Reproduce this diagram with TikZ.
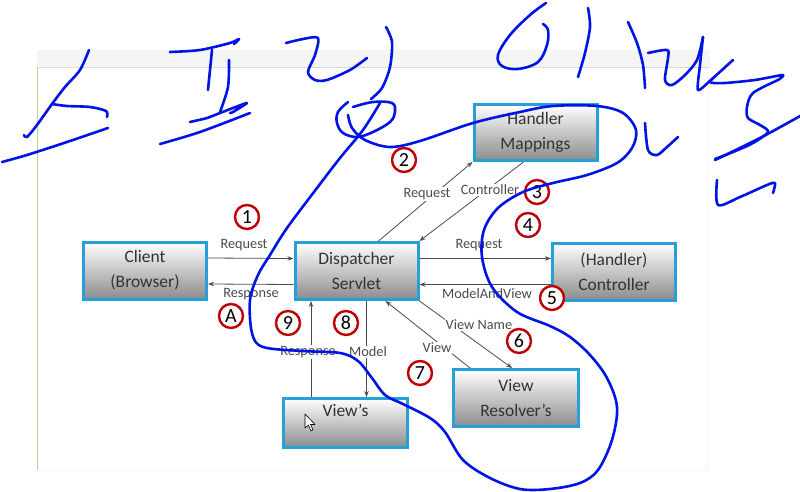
\documentclass[tikz,border=0pt]{standalone}
\usepackage{fontspec}
\setmainfont{Carlito}
\usetikzlibrary{arrows.meta, positioning}
\definecolor{boxblue}{RGB}{38,160,214}
\definecolor{inkblue}{RGB}{0,20,230}
\definecolor{numred}{RGB}{192,0,0}
\definecolor{lblgray}{RGB}{75,75,75}
\definecolor{slidegreen}{RGB}{190,210,140}
\colorlet{wiregray}{black!70}

\tikzset{
  flowbox/.style={draw=boxblue, line width=3pt, top color=white, bottom color=black!45,
    minimum width=123pt, minimum height=57pt, inner sep=0pt, align=center,
    text=black!80, font=\fontsize{17.5}{25}\selectfont},
  wirelbl/.style={fill=white, inner sep=1pt, text=lblgray, font=\fontsize{14.3}{15}\selectfont},
  numcirc/.style={circle, draw=numred, line width=2.4pt, fill=white, minimum size=24pt,
    inner sep=0pt, font=\fontsize{20}{20}\selectfont},
  wire/.style={draw=wiregray, line width=0.8pt},
  ink/.style={draw=inkblue, line width=2.6pt, line cap=round, line join=round}
}

\begin{document}
\begin{tikzpicture}[x=1pt, y=-1pt, >={Stealth[length=6pt,width=4.5pt]}]
    \useasboundingbox (0,0) rectangle (800,492);
    \fill[white] (0,0) rectangle (800,492);

    % Screen frame
    \fill[black!4] (37,50) rectangle (710,67);
    \draw[black!15, line width=0.6pt] (37,67) -- (710,67);
    \draw[slidegreen, line width=1pt] (37,67) -- (37,470);
    \draw[black!4, line width=0.6pt] (37,470) -- (707,470) -- (707,67);

    % Boxes
    \node[flowbox] (client) at (145,270.5) {Client\\(Browser)};
    \node[flowbox] (disp) at (356.5,271) {Dispatcher\\Servlet};
    \node[flowbox, minimum height=56pt] (hm) at (535.5,132.5) {Handler\\Mappings};
    \node[flowbox] (ctrl) at (614,271.5) {(Handler)\\Controller};
    \node[flowbox, minimum width=124pt, minimum height=49pt] (views) at (345.5,423) {View’s\\\mbox{}};
    \node[flowbox, minimum width=125pt] (vr) at (516,398) {View\\Resolver’s};

    % Arrows
    \draw[wire, ->] ([yshift=12.5pt]client.east) -- ([yshift=12.5pt]disp.west);
    \draw[wire, ->] ([yshift=-13.5pt]disp.west) -- ([yshift=-13.5pt]client.east);
    \draw[wire, ->] ([xshift=22pt]disp.north) -- (hm.south west);
    \draw[wire, ->] ([xshift=-12pt]hm.south) -- (disp.north east);
    \draw[wire, ->] ([yshift=12.5pt]disp.east) -- ([yshift=13pt]ctrl.west);
    \draw[wire, ->] ([yshift=-13pt]ctrl.west) -- ([yshift=-13.5pt]disp.east);
    \draw[wire, ->] (disp.south east) -- ([xshift=-4pt]vr.north);
    \draw[wire, ->] ([xshift=-46pt]vr.north) -- ([xshift=29pt]disp.south);
    \draw[wire, ->] ([xshift=10pt]disp.south) -- ([xshift=21pt]views.north);
    \draw[wire, ->] ([xshift=-34.5pt]views.north) -- ([xshift=-45.5pt]disp.south);

    % Labels
    \node[wirelbl] (lReqA) at (244,245) {Request};
    \node[wirelbl] (lRespA) at (251,294) {Response};
    \node[wirelbl] (lReqB) at (427,194) {Request};
    \node[wirelbl] (lCtrl) at (490,190) {Controller};
    \node[wirelbl] (lReqC) at (479,245) {Request};
    \node[wirelbl] (lMav) at (487,294) {ModelAndView};
    \node[wirelbl] (lVName) at (479,325) {View Name};
    \node[wirelbl] (lView) at (437,348) {View};
    \node[wirelbl] (lRespB) at (308,352) {Response};
    \node[wirelbl] (lModel) at (368,352) {Model};

    % Step numbers
    \node[numcirc] (n1) at (247,217) {1};
    \node[numcirc] (n2) at (404,160) {2};
    \node[numcirc] (n3) at (537,192) {3};
    \node[numcirc] (n4) at (528,225) {4};
    \node[numcirc] (n5) at (552,298) {5};
    \node[numcirc] (n6) at (519,341) {6};
    \node[numcirc] (n7) at (420,373) {7};
    \node[numcirc] (n8) at (346,323) {8};
    \node[numcirc] (n9) at (288,323) {9};
    \node[numcirc] (nA) at (231,316) {A};

    % Mouse pointer
    \draw[fill=white, line width=0.6pt, line join=round]
      (305,414) -- (305,428) -- (308.5,425) -- (311,431) -- (313,430) -- (310.5,424.5) -- (315,424.5) -- cycle;

    % Handwriting
    \draw[ink] plot[smooth, tension=0.5] coordinates {(89,50) (80,70) (65,87) (52,104) (37,125) (27,137) (24,135)};
    \draw[ink] plot[smooth, tension=0.5] coordinates {(52,104) (67,106) (90,107) (106,111) (107,117)};
    \draw[ink] plot[smooth] coordinates {(2,162) (27,155) (67,142) (108,128)};
    \draw[ink] plot[smooth, tension=0.5] coordinates {(170,52) (200,50) (230,43) (239,39) (234,44)};
    \draw[ink] plot[smooth] coordinates {(212,50) (210,70) (208,90)};
    \draw[ink] plot[smooth, tension=0.5] coordinates {(229,60) (228,87) (220,112)};
    \draw[ink] plot[smooth, tension=0.4] coordinates {(190,122) (207,118) (220,113) (233,108) (247,103) (233,112) (230,113)};
    \draw[ink] plot[smooth] coordinates {(160,144) (200,132) (250,113)};
    \draw[ink] plot[smooth, tension=0.5] coordinates {(286,43) (303,39) (318,38) (315,55) (308,72) (315,80) (327,80) (350,70) (367,58)};
    \draw[ink] plot[smooth] coordinates {(386,27) (392,42) (390,67) (382,88) (371,99)};
    \draw[ink] plot[smooth, tension=0.6] coordinates {(353,107) (373,102) (392,103) (395,112) (390,122) (373,132) (357,137) (343,133) (337,123) (338,112) (348,102)};
    \draw[ink] plot[smooth, tension=0.55] coordinates {(348,115) (352,128) (365,140) (390,147) (420,141) (473,123)
      (520,112) (553,106) (597,106) (623,113) (636,130) (632,148) (617,163) (587,175) (553,183) (523,192)
      (498,208) (484,230) (482,257) (492,287) (517,312) (550,326) (570,337) (590,355) (607,378) (617,407)
      (612,440) (598,470) (580,483) (550,489) (520,489) (490,478) (463,460) (445,432) (430,418) (403,404)
      (385,395) (372,378) (358,361) (340,353) (303,351) (263,347) (252,333) (250,300) (258,275) (270,255)
      (287,228) (317,188) (340,158) (363,130) (380,103)};
    \draw[ink] plot[smooth, tension=0.6] coordinates {(546,3) (530,15) (510,35) (498,55) (502,66) (518,69) (538,62) (547,45) (548,30) (543,24)};
    \draw[ink] plot[smooth] coordinates {(588,8) (590,27) (585,53) (578,77)};
    \draw[ink] plot[smooth] coordinates {(628,22) (637,43) (643,65) (645,88)};
    \draw[ink] plot[smooth, tension=0.5] coordinates {(648,53) (667,50) (668,58) (665,80) (672,85) (685,75) (697,60) (703,37)};
    \draw[ink] plot[smooth, tension=0.4] coordinates {(703,37) (700,65) (698,90) (712,79) (733,60) (722,70) (710,82) (725,83) (755,80) (783,75) (778,80)};
    \draw[ink] plot[smooth, tension=0.5] coordinates {(778,80) (753,93) (747,107) (748,118) (760,125) (768,132) (753,143) (733,152) (715,159)};
    \draw[ink] plot[smooth] coordinates {(715,160) (760,138) (802,115)};
    \draw[ink] plot[smooth, tension=0.5] coordinates {(717,180) (718,205) (740,197) (767,185) (775,183) (773,193)};
    \draw[ink] plot[smooth, tension=0.5] coordinates {(645,123) (648,150) (657,155) (667,147) (678,137)};
  \end{tikzpicture}
\end{document}
